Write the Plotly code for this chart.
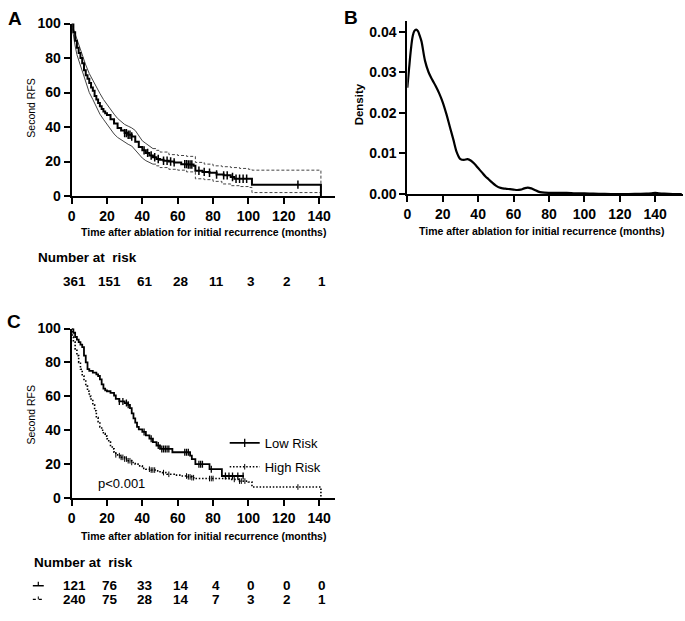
import numpy as np
import plotly.graph_objects as go

W, H = 685, 621
FONT = "Liberation Sans, Arial, sans-serif"

# ---------------- Data ----------------
# Panel A: overall KM with 95% CI
km_t = [0, 1, 2, 3, 4, 5, 6, 7, 8, 9, 10, 11, 12, 13, 14, 15, 16, 17, 18, 19, 20, 22, 24, 26, 28, 30,
        32, 34, 36, 38, 40, 42, 44, 46, 48, 50, 52, 55, 58, 62, 66, 69, 70, 74, 78, 82, 86, 90, 92, 96, 102, 141, 141]
km_s = [100, 95, 90, 86, 83, 80, 77, 73, 70, 68, 65.5, 63, 61, 58, 56, 54, 52, 50.5, 49, 48, 47, 44.5, 42, 39.5, 38, 36.5,
        35.5, 34.5, 31.5, 28.5, 26.5, 25, 23.5, 22.5, 21.5, 21, 20.5, 20, 19.5, 18.5, 18.3, 17.5, 14.7, 14, 13.5, 12.5, 12, 11, 10, 10, 6.6, 6.6, 0]
ci_t = [0, 1, 2, 3, 4, 5, 6, 8, 10, 12, 14, 16, 18, 20, 22, 24, 26, 28, 30, 32, 34, 36, 38, 40, 42, 44, 46, 48, 50,
        55, 60, 65, 70, 75, 80, 85, 90, 95, 100, 102, 141]
ci_up = [100, 97, 93, 90, 87, 84, 81, 76, 71, 67, 63, 59.5, 56, 53, 50, 47.5, 45, 43, 41.5, 40.5, 39.5, 38, 35, 32,
         30.5, 29, 27.5, 26.5, 25.5, 24, 23.5, 23, 19.5, 18.5, 17.5, 17, 16.5, 16, 15.5, 15, 15]
ci_lo = [100, 92, 87, 82, 79, 76, 72, 66, 60, 56, 51.5, 47.5, 44.5, 41.5, 38.5, 36, 34, 32.5, 31, 30, 29, 26.5, 24,
         22, 20.5, 19.5, 18.5, 17.5, 16.5, 15.5, 15, 14, 10, 9.5, 8.5, 7, 6, 5.5, 5, 2, 2]
km_cens = [30, 31, 32, 33, 34, 41, 43, 45, 47, 49, 52, 54, 56, 58, 64, 65, 66, 67, 68, 72, 75, 78, 82,
           86, 88, 91, 93, 95, 97, 99, 128]
risk_ticks = [0, 20, 40, 60, 80, 100, 120, 140]
risk_all = [361, 151, 61, 28, 11, 3, 2, 1]

# Panel B: density of recurrence time
dens_t = [0, 1, 2, 3, 4, 5, 6, 7, 8, 10, 12, 14, 16, 18, 20, 22, 24, 26, 28, 30, 32, 34, 36, 38, 40, 42, 44,
          46, 48, 50, 52, 54, 56, 58, 60, 62, 64, 66, 68, 70, 72, 74, 76, 80, 85, 90, 95, 100, 105, 110,
          115, 120, 125, 130, 135, 138, 140, 142, 145, 150, 155]
dens_v = [0.0262, 0.031, 0.0355, 0.0388, 0.0402, 0.0405, 0.0401, 0.039, 0.0376, 0.0328, 0.0300, 0.0282,
          0.0266, 0.0248, 0.0226, 0.0198, 0.0166, 0.0134, 0.0102, 0.0086, 0.0084, 0.0086, 0.0082, 0.0074,
          0.0064, 0.0054, 0.0044, 0.0036, 0.0028, 0.0021, 0.0016, 0.0014, 0.0013, 0.0012, 0.0011, 0.0010,
          0.0011, 0.0014, 0.0016, 0.0014, 0.0010, 0.0006, 0.0004, 0.0003, 0.0003, 0.0003, 0.0002, 0.0002,
          0.0001, 0.00005, 0.0, 0.0, 0.0, 0.00005, 0.0001, 0.0002, 0.0003, 0.0002, 0.0001, 0.0, 0.0]

# Panel C: Low vs High risk
low_t = [0, 1, 2, 3, 4, 5, 6, 7, 8, 9, 10, 12, 14, 15, 16, 17, 18, 19, 20, 22, 24, 25, 27, 30, 32, 33, 34,
         35, 36, 37, 38, 40, 42, 44, 46, 48, 50, 57, 67, 68, 70, 78, 85, 97.5]
low_s = [100, 97.5, 95, 93.5, 92, 90.5, 89, 84, 80, 76, 75, 74, 73, 72, 70, 67, 64.5, 63.5, 63, 62, 60.5,
         58.5, 57, 56, 55, 53, 50, 47, 44.5, 42, 40.5, 39, 37, 35, 33, 31, 29, 27, 25, 23, 20, 17, 13, 13]
high_t = [0, 0.5, 1, 2, 3, 4, 5, 6, 7, 8, 9, 10, 11, 12, 13, 14, 15, 16, 17, 18, 19, 20, 21, 22, 23, 24, 25,
          26, 28, 30, 32, 34, 36, 38, 40, 42, 45, 48, 50, 54, 58, 62, 66, 68, 70, 75, 80, 90, 95, 100, 102, 141, 141]
high_s = [100, 95, 92, 88, 84, 80, 76, 72, 69, 66, 63, 60, 57.5, 55, 51.5, 47.5, 45, 42, 40, 38, 36.5, 35,
          33, 31, 29, 27, 25.5, 25, 24, 23, 22, 21, 20, 19, 17.5, 17, 16.5, 16, 15, 14, 13.5, 13, 12.5, 12,
          11.5, 11.5, 11.5, 11, 10, 9.5, 6.5, 6.5, 0]
low_cens = [27, 29, 31, 32, 41, 45, 49, 51, 52, 53, 54, 55, 64, 65, 66, 72, 73, 74, 79, 87, 89, 91, 94, 97]
high_cens = [25, 27, 28, 29, 30, 31, 32, 33, 34, 44, 45, 46, 47, 52, 55, 65, 66, 67, 68, 69, 78, 79, 80,
             92, 95, 96, 98, 128]
risk_low = [121, 76, 33, 14, 4, 0, 0, 0]
risk_high = [240, 75, 28, 14, 7, 3, 2, 1]


def step_at(ts, ss, q):
    ts = np.asarray(ts, float)
    ss = np.asarray(ss, float)
    idx = np.searchsorted(ts, q, side="right") - 1
    return ss[idx]


def px_x(p):
    return p / W


def px_y(p):
    return 1 - p / H


DOT = "1.5px,1.8px"
fig = go.Figure()

# Panel A traces: CI (solid early, dashed tail, closed at last time)
split = 46
i_split = int(np.searchsorted(np.array(ci_t), split)) + 1
for arr in (ci_up, ci_lo):
    fig.add_trace(go.Scatter(x=ci_t[:i_split], y=arr[:i_split], mode="lines", line_shape="linear",
                             line=dict(color="#444", width=1), xaxis="x", yaxis="y", showlegend=False))
fig.add_trace(go.Scatter(x=ci_t[i_split - 1:] + [ci_t[-1]], y=ci_up[i_split - 1:] + [ci_lo[-1]], mode="lines",
                         line_shape="hv", line=dict(color="#444", width=1, dash="3px,2px"),
                         xaxis="x", yaxis="y", showlegend=False))
fig.add_trace(go.Scatter(x=ci_t[i_split - 1:], y=ci_lo[i_split - 1:], mode="lines",
                         line_shape="hv", line=dict(color="#444", width=1, dash="3px,2px"),
                         xaxis="x", yaxis="y", showlegend=False))
fig.add_trace(go.Scatter(x=km_t, y=km_s, mode="lines", line_shape="hv",
                         line=dict(color="black", width=2), xaxis="x", yaxis="y", showlegend=False))
fig.add_trace(go.Scatter(x=km_cens, y=step_at(km_t, km_s, km_cens), mode="markers",
                         marker=dict(symbol="line-ns", size=6, line=dict(color="black", width=1.5)),
                         xaxis="x", yaxis="y", showlegend=False))

# Panel B
fig.add_trace(go.Scatter(x=dens_t, y=dens_v, mode="lines", line_shape="spline",
                         line=dict(color="black", width=2.2), xaxis="x2", yaxis="y2", showlegend=False))

# Panel C
fig.add_trace(go.Scatter(x=low_t, y=low_s, mode="lines", line_shape="hv",
                         line=dict(color="black", width=1.8), xaxis="x3", yaxis="y3", showlegend=False))
fig.add_trace(go.Scatter(x=high_t, y=high_s, mode="lines", line_shape="hv",
                         line=dict(color="black", width=1.6, dash=DOT), xaxis="x3", yaxis="y3", showlegend=False))
fig.add_trace(go.Scatter(x=low_cens, y=step_at(low_t, low_s, low_cens), mode="markers",
                         marker=dict(symbol="line-ns", size=5, line=dict(color="black", width=1.3)),
                         xaxis="x3", yaxis="y3", showlegend=False))
fig.add_trace(go.Scatter(x=high_cens, y=step_at(high_t, high_s, high_cens), mode="markers",
                         marker=dict(symbol="line-ns", size=4, line=dict(color="black", width=1)),
                         xaxis="x3", yaxis="y3", showlegend=False))
# legend entries
fig.add_trace(go.Scatter(x=[None], y=[None], mode="lines+markers", name="Low Risk",
                         line=dict(color="black", width=1.8),
                         marker=dict(symbol="line-ns", size=6, line=dict(color="black", width=1.3)),
                         xaxis="x3", yaxis="y3", legendgroup="a"))
fig.add_trace(go.Scatter(x=[None], y=[None], mode="lines+markers", name="High Risk",
                         line=dict(color="black", width=1.6, dash=DOT),
                         marker=dict(symbol="line-ns", size=4, line=dict(color="black", width=1)),
                         xaxis="x3", yaxis="y3", legendgroup="b"))

axis_common = dict(showline=True, linecolor="black", linewidth=2, ticks="outside", ticklen=6,
                   tickwidth=2, tickcolor="black", showgrid=False, zeroline=False,
                   tickfont=dict(family=FONT, size=14, color="black", weight="bold"))

dom_ax = [px_x(68), px_x(333)]
fig.update_layout(
    width=W, height=H, autosize=False, margin=dict(l=0, r=0, t=0, b=0, pad=0),
    paper_bgcolor="white", plot_bgcolor="white",
    font=dict(family=FONT, color="black"),
    xaxis=dict(domain=dom_ax, range=[0, 149], tickvals=risk_ticks, anchor="y", **axis_common),
    yaxis=dict(domain=[px_y(193), px_y(16)], range=[0, 100], tickvals=[0, 20, 40, 60, 80, 100],
               anchor="x", **axis_common),
    xaxis2=dict(domain=[px_x(405.7), px_x(683)], range=[0, 155.7], tickvals=risk_ticks, anchor="y2",
                **axis_common),
    yaxis2=dict(domain=[px_y(191), px_y(13)], range=[0, 0.0427], tickvals=[0, 0.01, 0.02, 0.03, 0.04],
                tickformat=".2f", anchor="x2", **axis_common),
    xaxis3=dict(domain=dom_ax, range=[0, 149], tickvals=risk_ticks, anchor="y3", **axis_common),
    yaxis3=dict(domain=[px_y(503), px_y(329)], range=[0, 100], tickvals=[0, 20, 40, 60, 80, 100],
                anchor="x3", **axis_common),
    legend=dict(x=px_x(222), y=px_y(431), xanchor="left", yanchor="top", bgcolor="rgba(0,0,0,0)",
                font=dict(family=FONT, size=13, color="black"), tracegroupgap=4, itemwidth=30),
)

ann = []


def text(x, y, s, size, bold=False, angle=0, xanchor="center", xref="paper", xshift=0):
    ann.append(dict(x=x, y=y, xref=xref, yref="paper", text=s, showarrow=False, textangle=angle,
                    xanchor=xanchor, yanchor="middle", xshift=xshift,
                    font=dict(family=FONT, size=size, color="black", weight="bold" if bold else "normal")))


def num(xref, t, y, s):
    ann.append(dict(x=t, y=y, xref=xref, yref="paper", text=s, showarrow=False, xshift=3,
                    xanchor="center", yanchor="middle",
                    font=dict(family=FONT, size=13.5, color="black", weight="bold")))


# panel letters
text(px_x(2), px_y(11), "A", 19, True, xanchor="left")
text(px_x(340), px_y(10), "B", 19, True, xanchor="left")
text(px_x(1), px_y(322), "C", 19, True, xanchor="left")
# axis titles
text(px_x(27.5), px_y(102), "Second RFS", 10.5, angle=-90)
text(px_x(27.5), px_y(417), "Second RFS", 10.5, angle=-90)
text(px_x(358), px_y(99), "Density", 11.5, True, angle=-90)
xt = "Time after ablation for initial recurrence (months)"
text(px_x(200.5), px_y(230), xt, 10.5, True)
text(px_x(541), px_y(229), xt, 10.5, True)
text(px_x(200.5), px_y(542), xt, 10.5, True)
# risk tables
text(px_x(32), px_y(256), "Number at  risk", 13.5, True, xanchor="left")
for t, n in zip(risk_ticks, risk_all):
    num("x", t, px_y(281), str(n))
text(px_x(28), px_y(569), "Number at  risk", 13.5, True, xanchor="left")
for t, a, b in zip(risk_ticks, risk_low, risk_high):
    num("x3", t, px_y(593), str(a))
    num("x3", t, px_y(607), str(b))
# p-value
text(px_x(93), px_y(488), "p<0.001", 13, xanchor="left")
fig.update_layout(annotations=ann)

# small line glyphs before the risk rows
shapes = [
    dict(type="line", xref="paper", yref="paper", x0=px_x(29), x1=px_x(40), y0=px_y(593), y1=px_y(593),
         line=dict(color="black", width=1.5)),
    dict(type="line", xref="paper", yref="paper", x0=px_x(34.5), x1=px_x(34.5), y0=px_y(593), y1=px_y(589),
         line=dict(color="black", width=1.2)),
    dict(type="line", xref="paper", yref="paper", x0=px_x(29), x1=px_x(40), y0=px_y(607), y1=px_y(607),
         line=dict(color="black", width=1.2, dash="dot")),
    dict(type="line", xref="paper", yref="paper", x0=px_x(34.5), x1=px_x(34.5), y0=px_y(607), y1=px_y(604),
         line=dict(color="black", width=1)),
]
fig.update_layout(shapes=shapes)

css_fix = (
    "var s=document.createElement('style');"
    "s.innerHTML='html,body{margin:0!important;padding:0!important;overflow:hidden!important;}';"
    "document.head.appendChild(s);"
)
fig.write_html("out.html", config={"displayModeBar": False, "responsive": False}, post_script=css_fix)
